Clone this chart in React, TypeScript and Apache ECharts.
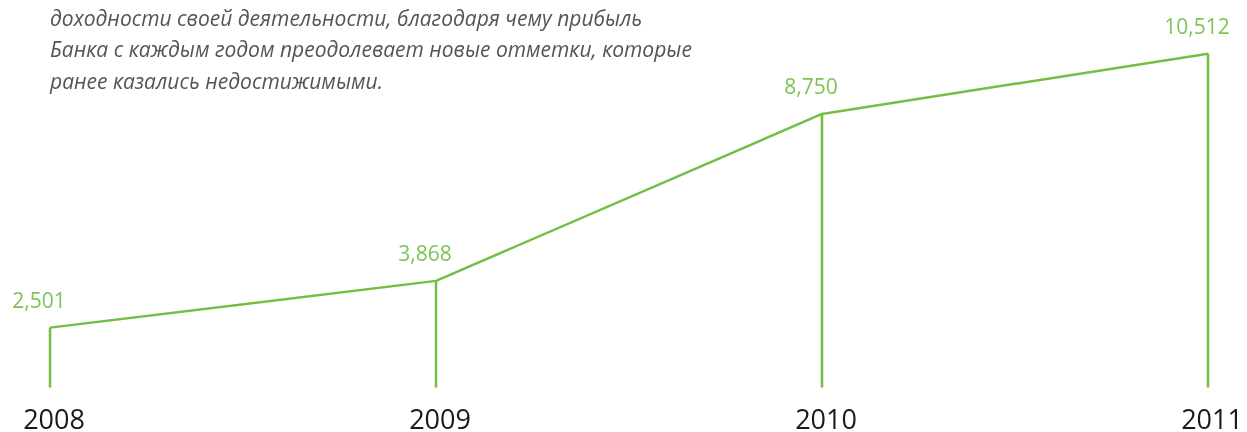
import React, { useEffect, useRef } from "react";
import * as echarts from "echarts";

const years = ["2008", "2009", "2010", "2011"];
const profit = [2501, 3868, 8750, 10512];
const Y_MIN = 750;
const Y_MAX = 11000;
const introLines = [
  "доходности своей деятельности, благодаря чему прибыль",
  "Банка с каждым годом преодолевает новые отметки, которые",
  "ранее казались недостижимыми.",
];

const LINE_COLOR = "#72bf44";
const LABEL_COLOR = "#7cc457";

export default function App() {
  const ref = useRef<HTMLDivElement>(null);
  useEffect(() => {
    if (!ref.current) return;
    const chart = echarts.init(ref.current, null, { renderer: "svg" });
    chart.setOption({
      animation: false,
      grid: { left: 50, right: 39, top: 37, bottom: 44 },
      xAxis: {
        type: "category",
        data: years,
        boundaryGap: false,
        axisLine: { show: false },
        axisTick: { show: false },
        axisLabel: {
          margin: 19,
          fontSize: 27,
          lineHeight: 24,
          padding: [0, 0, 0, 8],
          fontFamily: "Open Sans",
          color: "#1a1a1a",
        },
      },
      yAxis: {
        type: "value",
        min: Y_MIN,
        max: Y_MAX,
        show: false,
        splitLine: { show: false },
      },
      graphic: [
        {
          type: "text",
          left: 50,
          top: 2,
          style: {
            text: introLines.join("\n"),
            font: "italic 21px 'Open Sans'",
            lineHeight: 31.5,
            fill: "#555555",
          },
        },
      ],
      series: [
        {
          type: "custom",
          data: profit.map((v, i) => [i, v]),
          renderItem: (params: any, api: any) => {
            const top = api.coord([api.value(0), api.value(1)]);
            const bottom = api.coord([api.value(0), Y_MIN]);
            return {
              type: "line",
              shape: { x1: top[0], y1: top[1], x2: bottom[0], y2: bottom[1] },
              style: { stroke: LINE_COLOR, lineWidth: 2.5 },
            };
          },
          silent: true,
        },
        {
          type: "line",
          data: profit,
          symbol: "circle",
          symbolSize: 1,
          showSymbol: true,
          lineStyle: { color: LINE_COLOR, width: 2.5 },
          itemStyle: { color: LINE_COLOR },
          label: {
            show: true,
            position: "top",
            distance: 17,
            offset: [-11, 0],
            fontSize: 21,
            fontFamily: "Open Sans",
            color: LABEL_COLOR,
            formatter: (p: any) => Number(p.value).toLocaleString("en-US"),
          },
        },
      ],
    });
    return () => chart.dispose();
  }, []);
  return (
    <div
      ref={ref}
      style={{ position: "fixed", left: 0, top: 0, width: 1247, height: 432 }}
    />
  );
}
